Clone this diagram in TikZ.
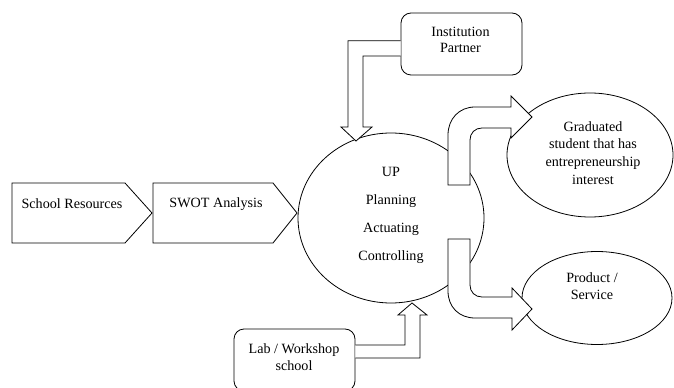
\documentclass[tikz,border=0pt]{standalone}
\usepackage{fontspec}
\setmainfont{Liberation Serif}
\usetikzlibrary{shapes.geometric}

\begin{document}
\begin{tikzpicture}[x=0.75pt,y=-0.75pt,line width=0.6pt,
	txt/.style={align=center,font=\fontsize{10.6}{12.5}\selectfont},
	rbox/.style={draw,rounded corners=7.5pt,minimum width=90.75pt,minimum height=46.5pt},
	oval/.style={draw,ellipse,inner sep=0pt},
	blockarrow/.style={draw,fill=white,line join=miter}]
	\useasboundingbox (0,0) rectangle (674,388);
	\node [oval,minimum width=139.5pt,minimum height=127.5pt] (up) at (391,218) {};
	\node [txt,font=\fontsize{10.6}{21}\selectfont] (uptext) at (391,215) {UP\\Planning\\Actuating\\Controlling};
	\node [oval,minimum width=124.5pt,minimum height=93pt] (grad) at (590,155) {};
	\node [txt,font=\fontsize{10.6}{13.3}\selectfont] (gradtext) at (593,153) {Graduated\\student that has\\entrepreneurship\\interest};
	\node [oval,minimum width=112.5pt,minimum height=69.75pt] (prod) at (597,298) {};
	\node [txt] (prodtext) at (592,286) {Product /\\Service};
	\node [rbox] (inst) at (461.5,44) {};
	\node [txt] (insttext) at (460.5,40) {Institution\\Partner};
	\node [rbox] (lab) at (294.5,360) {};
	\node [txt] (labtext) at (294,357) {Lab / Workshop\\school};
	\draw (12,183) -- (125,183) -- (152,213) -- (125,243) -- (12,243) -- cycle;
	\node [txt] (school) at (72,204) {School Resources};
	\draw (153,183) -- (273,183) -- (297,213) -- (273,243) -- (153,243) -- cycle;
	\node [txt] (swot) at (216,204) {SWOT Analysis};
	\draw [blockarrow] (inst.west |- 0,40.7) -- (348,40.7) -- (348,127) -- (341,127) -- (356,141)
		-- (372,127) -- (363,127) -- (363,56) -- (inst.west |- 0,56);
	\draw [blockarrow] (lab.east |- 0,345) -- (405,345) -- (405,315) -- (398,315) -- (412,303)
		-- (427,315) -- (420,315) -- (420,358) -- (lab.east |- 0,358);
	\draw [blockarrow] (448,185) -- (448,135) .. controls (448,119) and (459,107) .. (475,107)
		-- (511,107) -- (511,96) -- (532,117) -- (511,138) -- (511,128) -- (482,128)
		.. controls (475,128) and (470,133) .. (470,140) -- (470,185) -- cycle;
	\draw [blockarrow] (448,239) -- (448,291) .. controls (448,307) and (459,318) .. (475,318)
		-- (512,318) -- (512,330) -- (532,309) -- (512,288) -- (512,297) -- (482,297)
		.. controls (475,297) and (470,292) .. (470,285) -- (470,239) -- cycle;
\end{tikzpicture}
\end{document}
